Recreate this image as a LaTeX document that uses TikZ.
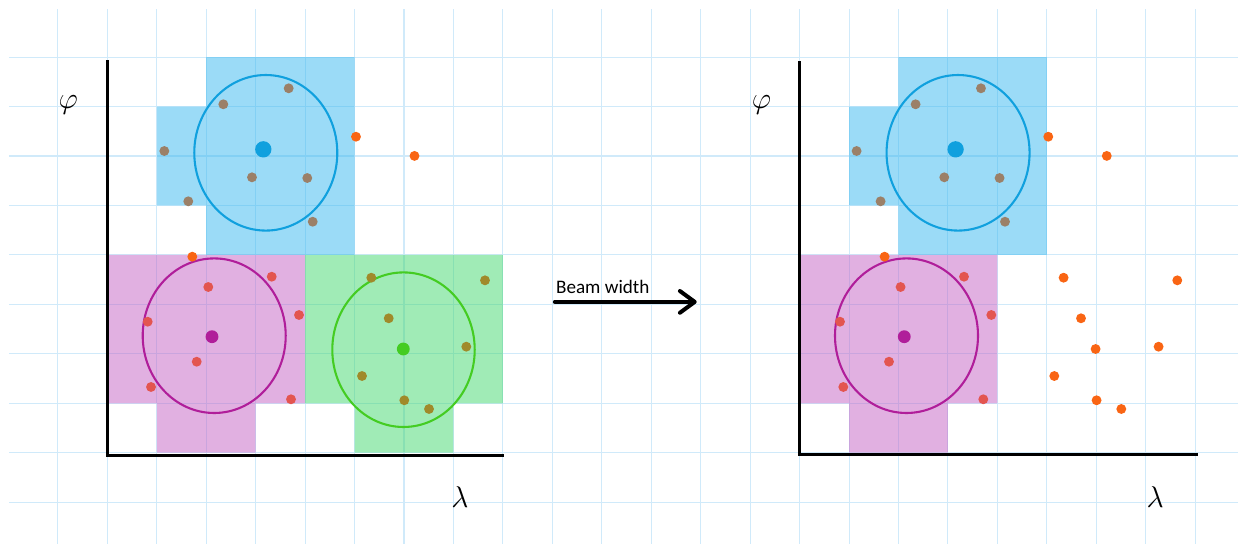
\documentclass[tikz,border=0pt]{standalone}
\usepackage{fontspec}
\newfontfamily\calibri{Carlito}
\usetikzlibrary{arrows.meta}
\definecolor{gridblue}{RGB}{208,234,250}
\definecolor{fillblue}{RGB}{55,183,239}
\definecolor{fillpurple}{RGB}{195,97,195}
\definecolor{fillgreen}{RGB}{65,215,109}
\definecolor{ringblue}{RGB}{16,160,222}
\definecolor{ringpurple}{RGB}{176,30,154}
\definecolor{ringgreen}{RGB}{68,204,34}
\definecolor{dotbrown}{RGB}{155,128,104}
\definecolor{dotred}{RGB}{227,85,80}
\definecolor{dotolive}{RGB}{160,138,42}
\definecolor{dotorange}{RGB}{249,101,20}
\begin{document}
\begin{tikzpicture}
[font=\fontsize{17}{20}\selectfont]
\tikzstyle{gridline}=[draw=gridblue, line width=0.6pt]
\tikzstyle{region}=[fill opacity=0.5]
\tikzstyle{ring}=[line width=1.2pt]
\tikzstyle{axis}=[line width=1.4pt, black]
\tikzstyle{pt}=[circle, inner sep=0mm, minimum size=2mm]
\tikzstyle{bdot}=[pt, fill=dotbrown]
\tikzstyle{rdot}=[pt, fill=dotred]
\tikzstyle{gdot}=[pt, fill=dotolive]
\tikzstyle{odot}=[pt, fill=dotorange]
\tikzstyle{center}=[circle, inner sep=0mm, minimum size=2.6mm]
\tikzstyle{beam}=[line width=2.3pt, line cap=round, -{Straight Barb[length=3mm, width=4.4mm, round]}]
\useasboundingbox (-2.17,-1.846) rectangle (22.866,9.155);
\draw[gridline, step=1] (-1.99,-1.846) grid (22.866,8.97);

% left: before
\fill[region, fillblue]   (2,8) -- (5,8) -- (5,4) -- (2,4) -- (2,5) -- (1,5) -- (1,7) -- (2,7) -- cycle;
\fill[region, fillpurple] (0,4) -- (4,4) -- (4,1) -- (3,1) -- (3,0) -- (1,0) -- (1,1) -- (0,1) -- cycle;
\fill[region, fillgreen]  (4,4) -- (8,4) -- (8,1) -- (7,1) -- (7,0) -- (5,0) -- (5,1) -- (4,1) -- cycle;
\draw[ring, ringblue]   (3.205,6.065) ellipse (1.446 and 1.573);
\draw[ring, ringpurple] (2.162,2.366) ellipse (1.446 and 1.563);
\draw[ring, ringgreen]  (5.990,2.083) ellipse (1.440 and 1.563);
\coordinate (Ytop) at (0,7.94);
\coordinate (O)    at (0,-0.06);
\coordinate (Xend) at (8.03,-0.06);
\draw[axis] (Ytop) -- (O) -- (Xend);
\node (phi)  at (-0.79,7.03) {$\varphi$};
\node (lam)  at (7.13,-0.90) {$\lambda$};

\node[center, fill=ringblue, minimum size=3.3mm] (bc) at (3.155,6.135) {};
\node[center, fill=ringpurple] (pc) at (2.117,2.346) {};
\node[center, fill=ringgreen]  (gc) at (5.986,2.097) {};
\node[bdot] (b1) at (2.346,7.046) {};
\node[bdot] (b2) at (3.668,7.369) {};
\node[bdot] (b3) at (1.153,6.101) {};
\node[bdot] (b4) at (2.926,5.569) {};
\node[bdot] (b5) at (4.044,5.555) {};
\node[bdot] (b6) at (1.638,5.084) {};
\node[bdot] (b7) at (4.154,4.671) {};
\node[odot] (o1) at (5.029,6.390) {};
\node[odot] (o2) at (6.212,6.002) {};
\node[odot] (o3) at (1.719,3.964) {};
\node[rdot] (r1) at (3.325,3.559) {};
\node[rdot] (r2) at (2.042,3.351) {};
\node[rdot] (r3) at (0.817,2.649) {};
\node[rdot] (r4) at (3.877,2.785) {};
\node[rdot] (r5) at (1.808,1.840) {};
\node[rdot] (r6) at (0.884,1.329) {};
\node[rdot] (r7) at (3.715,1.080) {};
\node[gdot] (g1) at (5.339,3.539) {};
\node[gdot] (g2) at (7.638,3.486) {};
\node[gdot] (g3) at (5.691,2.718) {};
\node[gdot] (g4) at (7.260,2.144) {};
\node[gdot] (g5) at (5.151,1.551) {};
\node[gdot] (g6) at (6.006,1.060) {};
\node[gdot] (g7) at (6.506,0.884) {};

% arrow
\coordinate (arrS) at (9.05,3.05);
\coordinate (arrE) at (11.92,3.05);
\draw[beam] (arrS) -- (arrE);
\node[anchor=base west, inner sep=0pt, font=\calibri\fontsize{11}{13}\selectfont] (bw) at (9.07,3.22) {Beam width};

% right: after
\fill[region, fillblue]   (16,8) -- (19,8) -- (19,4) -- (16,4) -- (16,5) -- (15,5) -- (15,7) -- (16,7) -- cycle;
\fill[region, fillpurple] (14,4) -- (18,4) -- (18,1) -- (17,1) -- (17,0) -- (15,0) -- (15,1) -- (14,1) -- cycle;
\draw[ring, ringblue]   (17.205,6.065) ellipse (1.446 and 1.573);
\draw[ring, ringpurple] (16.162,2.366) ellipse (1.446 and 1.563);
\coordinate (Ytop') at (14,7.92);
\coordinate (O')    at (14,-0.04);
\coordinate (Xend') at (22.05,-0.04);
\draw[axis] (Ytop') -- (O') -- (Xend');
\node (phi') at (13.23,7.03) {$\varphi$};
\node (lam') at (21.19,-0.89) {$\lambda$};

\node[center, fill=ringblue, minimum size=3.3mm] (bc') at (17.155,6.135) {};
\node[center, fill=ringpurple] (pc') at (16.117,2.346) {};
\node[bdot] (b1') at (16.346,7.046) {};
\node[bdot] (b2') at (17.668,7.369) {};
\node[bdot] (b3') at (15.153,6.101) {};
\node[bdot] (b4') at (16.926,5.569) {};
\node[bdot] (b5') at (18.044,5.555) {};
\node[bdot] (b6') at (15.638,5.084) {};
\node[bdot] (b7') at (18.154,4.671) {};
\node[odot] (o1') at (19.029,6.390) {};
\node[odot] (o2') at (20.212,6.002) {};
\node[odot] (o3') at (15.719,3.964) {};
\node[rdot] (r1') at (17.325,3.559) {};
\node[rdot] (r2') at (16.042,3.351) {};
\node[rdot] (r3') at (14.817,2.649) {};
\node[rdot] (r4') at (17.877,2.785) {};
\node[rdot] (r5') at (15.808,1.840) {};
\node[rdot] (r6') at (14.884,1.329) {};
\node[rdot] (r7') at (17.715,1.080) {};
\node[odot] (gc') at (19.986,2.097) {};
\node[odot] (g1') at (19.339,3.539) {};
\node[odot] (g2') at (21.638,3.486) {};
\node[odot] (g3') at (19.691,2.718) {};
\node[odot] (g4') at (21.260,2.144) {};
\node[odot] (g5') at (19.151,1.551) {};
\node[odot] (g6') at (20.006,1.060) {};
\node[odot] (g7') at (20.506,0.884) {};
\end{tikzpicture}
\end{document}
